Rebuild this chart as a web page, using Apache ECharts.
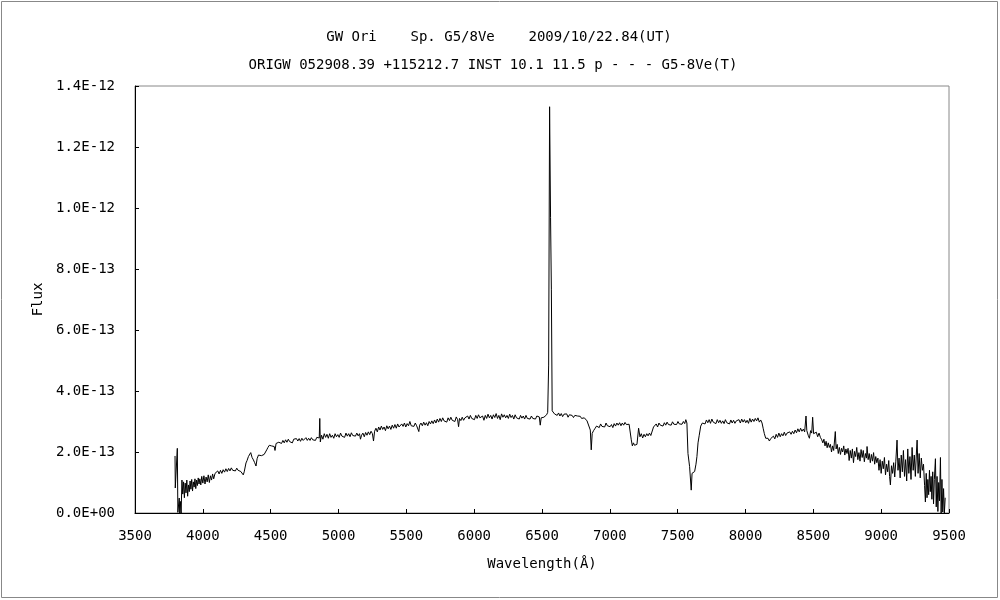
<!DOCTYPE html>
<html>
<head>
<meta charset="utf-8">
<script src="https://cdn.jsdelivr.net/npm/echarts@6/dist/echarts.min.js"></script>
<style>html,body{margin:0;padding:0;background:#fff}#c{width:1000px;height:600px}</style>
</head>
<body>
<div id="c"></div>
<script>
var titleLine1 = 'GW Ori    Sp. G5/8Ve    2009/10/22.84(UT)';
var titleLine2 = 'ORIGW 052908.39 +115212.7 INST 10.1 11.5 p - - - G5-8Ve(T)';
var xAxisName = 'Wavelength(Å)';
var yAxisName = 'Flux';
var xTicks = [3500, 4000, 4500, 5000, 5500, 6000, 6500, 7000, 7500, 8000, 8500, 9000, 9500];
var yTicks = [0, 2e-13, 4e-13, 6e-13, 8e-13, 1e-12, 1.2e-12, 1.4e-12];
// spectrum: [wavelength Å, flux in units of 1e-13]
var spectrum = [
[3795,1.87],[3797,0.82],[3810,0.82],[3812,2.12],[3816,0.02],[3822,0.0],[3826,0.49],[3830,0.0],[3834,0.38],[3840,0.0],[3846,1.08],
[3852,0.62],[3858,1.02],[3864,0.5],[3870,0.98],[3876,0.66],[3882,1.08],[3888,0.55],[3894,0.92],[3900,0.7],[3906,1.05],[3912,0.78],[3918,1.1],[3924,0.72],[3930,1.02],[3936,0.85],[3942,1.12],[3948,0.8],[3954,1.08],[3960,0.9],[3966,1.15],[3972,0.95],[3978,1.12],
[3985,0.92],[3992,1.2],[4000,0.98],[4008,1.22],[4016,0.95],[4024,1.18],[4032,1.02],[4040,1.25],[4048,1.0],[4056,1.22],[4064,1.08],[4072,1.28],[4080,1.12],[4090,1.3],
[4100,1.25],[4110,1.38],[4120,1.28],[4130,1.4],[4140,1.3],[4150,1.42],[4160,1.34],[4170,1.45],[4180,1.36],[4190,1.46],[4200,1.38],[4210,1.48],[4220,1.4],[4230,1.46],[4240,1.38],[4250,1.47],[4260,1.4],[4270,1.45],[4280,1.36],[4290,1.3],[4298,1.25],
[4305,1.35],[4318,1.64],[4326,1.72],[4336,1.85],[4345,1.8],[4353,1.98],[4363,1.82],[4373,1.74],[4382,1.65],[4392,1.54],[4400,1.78],[4410,1.9],[4422,1.85],[4432,1.88],[4442,1.84],[4452,1.92],[4462,1.98],[4471,2.07],[4480,2.15],[4490,2.22],[4496,2.26],[4506,2.2],[4516,2.25],[4526,2.18],[4532,2.05],[4540,2.28],[4550,2.22],[4560,2.32],
[4570,2.35],[4580,2.28],[4590,2.38],[4600,2.3],[4610,2.4],[4620,2.32],[4630,2.42],[4640,2.34],[4650,2.4],[4660,2.3],[4670,2.42],[4680,2.36],[4690,2.44],[4700,2.36],[4710,2.44],[4720,2.35],[4730,2.45],[4740,2.38],[4750,2.42],[4760,2.47],[4770,2.38],[4780,2.45],[4790,2.38],[4800,2.47],[4810,2.4],[4820,2.46],[4830,2.38],[4840,2.48],[4850,2.42],[4858,2.46],[4862,3.1],[4866,2.33],
[4875,2.55],[4885,2.42],[4895,2.6],[4905,2.48],[4915,2.58],[4925,2.45],[4935,2.6],[4945,2.48],[4955,2.55],[4965,2.45],[4975,2.6],[4985,2.5],[4995,2.57],[5005,2.48],[5015,2.62],[5025,2.52],[5035,2.58],[5045,2.48],[5055,2.62],[5065,2.52],[5075,2.6],[5085,2.5],[5095,2.63],[5105,2.54],[5115,2.6],[5125,2.52],[5135,2.62],[5145,2.53],[5155,2.6],[5162,2.42],
[5170,2.55],[5180,2.62],[5190,2.5],[5200,2.64],[5210,2.55],[5220,2.66],[5230,2.57],[5240,2.68],[5250,2.6],[5258,2.36],[5266,2.68],[5276,2.78],[5286,2.66],[5296,2.82],[5306,2.72],[5316,2.85],[5326,2.74],[5336,2.82],[5346,2.7],[5356,2.86],[5366,2.76],[5376,2.85],[5386,2.74],[5396,2.88],[5406,2.78],[5416,2.9],[5426,2.78],[5436,2.92],[5446,2.82],[5456,2.8],[5466,2.92],[5476,2.84],[5486,2.95],[5496,2.82],[5506,2.93],[5516,2.86],[5526,3.0],
[5536,2.86],[5546,2.92],[5556,2.84],[5566,2.95],[5576,2.86],[5586,2.9],[5592,2.67],[5598,2.88],[5608,2.95],[5618,2.86],[5628,2.98],[5638,2.88],[5648,2.96],[5658,2.86],[5668,3.0],[5678,2.92],[5688,3.02],[5698,2.93],
[5708,3.05],[5718,2.95],[5728,3.08],[5738,2.98],[5748,3.1],[5758,3.0],[5768,3.12],[5778,3.02],[5788,3.08],[5798,2.98],[5808,3.12],[5818,3.03],[5828,3.14],[5838,3.04],[5848,3.1],[5858,3.0],[5868,3.15],[5878,3.06],[5885,2.83],[5892,3.1],[5902,3.03],[5912,3.14],[5922,3.04],[5932,3.12],[5942,3.06],
[5952,3.18],[5962,3.08],[5972,3.2],[5982,3.1],[5992,3.16],[6002,3.06],[6012,3.2],[6022,3.1],[6032,3.22],[6042,3.12],[6052,3.08],[6062,3.18],[6072,3.04],[6082,3.2],[6092,3.1],[6102,3.24],[6112,3.12],[6122,3.2],[6132,3.08],[6142,3.22],[6152,3.13],[6162,3.26],[6172,3.1],[6182,3.2],[6192,3.06],[6202,3.25],[6212,3.14],[6222,3.22],[6232,3.12],[6242,3.2],[6252,3.1],[6262,3.24],[6272,3.13],[6282,3.2],[6292,3.08],[6302,3.22],[6312,3.12],[6322,3.18],[6332,3.08],[6342,3.2],[6352,3.11],[6362,3.18],[6372,3.08],[6382,3.2],[6392,3.1],[6402,3.16],[6412,3.08],[6422,3.18],[6432,3.1],[6442,3.16],[6452,3.08],[6462,3.18],[6472,3.12],[6480,3.15],[6487,2.88],[6494,3.12],[6504,3.18],[6514,3.14],[6524,3.2],[6534,3.22],[6542,3.3],
[6549,4.85],[6556,13.32],[6563,9.68],[6569,7.34],[6575,3.35],
[6582,3.34],[6592,3.25],[6602,3.3],[6612,3.2],[6622,3.28],[6632,3.18],[6642,3.26],[6652,3.16],[6662,3.24],[6672,3.18],[6682,3.25],[6692,3.14],[6702,3.22],[6712,3.16],[6722,3.2],[6732,3.13],[6742,3.2],[6752,3.14],[6762,3.18],[6772,3.12],[6782,3.17],[6792,3.1],[6802,3.16],[6812,3.12],[6822,3.1],[6832,3.02],[6843,3.0],[6856,2.72],[6863,2.07],[6870,2.61],[6880,2.7],[6892,2.78],
[6902,2.85],[6912,2.9],[6922,2.8],[6932,2.92],[6942,2.84],[6952,2.9],[6962,2.82],[6972,2.95],[6982,2.86],[6992,2.92],[7002,2.83],[7012,2.9],[7022,2.8],[7032,2.93],[7042,2.85],[7052,2.95],[7062,2.88],[7072,2.96],[7082,2.86],[7092,2.95],[7102,2.88],[7112,2.97],[7122,2.9],[7132,2.95],[7142,2.91],[7150,2.9],
[7158,2.4],[7166,2.2],[7174,2.3],[7182,2.22],[7192,2.28],[7200,2.25],[7212,2.78],[7222,2.5],[7232,2.6],[7242,2.46],[7252,2.58],[7262,2.5],[7272,2.6],[7282,2.53],[7292,2.62],[7302,2.54],[7312,2.6],[7322,2.82],
[7332,2.86],[7342,2.92],[7352,2.82],[7362,2.95],[7372,2.88],[7382,2.93],[7392,2.85],[7402,2.96],[7412,2.88],[7422,2.98],[7432,2.9],[7442,2.96],[7452,2.88],[7462,2.99],[7472,2.91],[7482,2.97],[7492,2.9],[7502,3.0],[7512,2.92],[7522,2.98],[7532,2.91],[7542,3.0],[7552,2.93],[7560,3.06],[7568,2.95],
[7576,1.95],[7588,1.52],[7600,0.75],[7606,1.3],[7614,1.32],[7625,1.36],[7635,1.6],[7642,1.85],[7650,2.3],[7659,2.55],[7670,2.85],[7682,2.95],
[7692,3.0],[7702,2.92],[7712,3.05],[7722,2.96],[7732,3.06],[7742,2.94],[7752,3.08],[7762,2.98],[7772,3.04],[7782,2.93],[7792,3.06],[7802,2.96],[7812,3.04],[7822,2.94],[7832,3.02],[7842,2.93],[7852,3.06],[7862,2.96],[7872,3.02],[7882,2.92],[7892,3.05],[7902,2.95],[7912,3.04],[7922,2.94],[7932,3.02],[7942,2.96],[7952,3.06],[7962,2.95],[7972,3.08],[7982,2.98],[7992,3.06],[8002,2.96],[8012,3.04],[8022,2.94],[8032,3.1],[8042,2.98],[8052,3.08],[8062,3.0],[8072,3.1],[8082,3.02],[8092,3.12],[8102,2.98],[8112,3.05],
[8122,2.95],[8130,2.78],[8139,2.6],[8149,2.45],[8158,2.4],[8166,2.45],[8176,2.36],[8186,2.44],[8196,2.38],[8206,2.52],[8216,2.43],[8226,2.58],[8236,2.48],[8246,2.62],[8256,2.5],[8266,2.6],[8276,2.53],[8286,2.65],[8296,2.54],[8306,2.62],[8316,2.56],[8326,2.66],[8336,2.58],[8346,2.68],[8356,2.6],
[8366,2.72],[8376,2.63],[8386,2.76],[8396,2.66],[8406,2.78],[8416,2.68],[8426,2.75],[8436,2.66],[8446,3.18],[8452,2.7],[8462,2.55],[8471,2.45],[8480,2.7],[8488,2.62],[8495,3.14],[8502,2.6],[8512,2.55],[8522,2.65],[8532,2.5],[8542,2.62],[8552,2.48],[8562,2.4],[8570,2.3],[8578,2.42],[8586,2.2],[8594,2.35],[8602,2.14],[8610,2.3],[8618,2.15],
[8626,2.25],[8634,2.0],[8642,2.2],[8650,2.05],[8662,2.67],[8668,2.1],[8676,2.25],[8684,1.95],[8692,2.15],[8700,1.92],[8708,2.12],[8716,2.0],[8724,2.2],[8732,1.9],[8740,2.1],[8748,1.95],
[8756,2.12],[8764,1.72],[8772,2.05],[8780,1.8],[8788,2.1],[8796,1.65],[8804,2.02],[8812,1.85],[8820,2.15],[8828,1.75],[8836,1.98],[8844,1.7],[8852,2.08],[8860,1.82],[8868,2.05],[8876,1.68],[8884,1.95],[8892,1.8],[8896,2.18],[8904,1.75],[8912,1.95],[8920,1.65],[8928,1.92],[8936,1.7],[8944,1.98],[8952,1.6],[8960,1.85],[8968,1.65],
[8976,1.8],[8984,1.4],[8992,1.75],[9000,1.3],[9008,1.7],[9016,1.45],[9024,1.82],[9032,1.25],[9040,1.6],[9048,1.35],[9056,1.72],[9062,1.2],[9068,0.92],[9076,1.55],[9084,1.3],[9092,1.65],[9100,1.18],[9108,1.7],[9117,2.39],[9124,1.4],
[9132,1.8],[9140,1.15],[9148,1.9],[9156,1.35],[9164,2.05],[9172,1.2],[9180,1.75],[9188,1.05],[9196,2.1],[9204,1.3],[9212,1.85],[9220,1.1],[9228,2.15],[9236,1.4],[9244,1.9],[9252,1.2],[9260,2.0],[9265,2.39],[9272,1.3],[9280,1.95],[9288,1.15],[9296,1.8],[9304,1.4],[9312,1.6],
[9320,0.9],[9326,0.36],[9332,1.3],[9338,0.5],[9344,1.1],[9350,0.6],[9356,1.4],[9362,0.7],[9368,1.2],[9374,0.45],[9380,1.35],[9386,0.3],[9392,1.1],[9400,1.78],[9406,0.2],[9412,1.2],[9418,0.05],[9424,1.0],[9430,0.4],[9437,1.82],[9442,0.0],[9448,1.1],[9454,0.03],[9460,0.8],[9466,0.0],[9472,0.5]
];
var FLUX_UNIT = 1e-13;

var font = 'DejaVu Sans Mono';
var chart = echarts.init(document.getElementById('c'), null, {renderer: 'canvas'});
var seriesData = spectrum.map(function (p) { return [p[0], p[1] * FLUX_UNIT]; });
function fmtY(v) {
  if (v === 0) return '0.0E+00';
  return v.toExponential(1).toUpperCase();
}
function fmtX(v) { return String(v); }
chart.setOption({
  animation: false,
  backgroundColor: '#ffffff',
  title: [
    {text: titleLine1, left: 494, top: 25, textAlign: 'center',
     textStyle: {fontFamily: font, fontSize: 14, fontWeight: 'normal', color: '#000'}},
    {text: titleLine2, left: 488, top: 53, textAlign: 'center',
     textStyle: {fontFamily: font, fontSize: 14, fontWeight: 'normal', color: '#000'}}
  ],
  graphic: [{type: 'rect', shape: {x: 1.5, y: 1.5, width: 996, height: 596},
    style: {fill: 'none', stroke: '#888', lineWidth: 1}, silent: true}],
  grid: {left: 135, right: 51, top: 86, bottom: 87, show: true, borderColor: '#888', borderWidth: 1, backgroundColor: 'transparent'},
  xAxis: {
    type: 'value', min: xTicks[0], max: xTicks[xTicks.length - 1], interval: 500,
    name: xAxisName, nameLocation: 'middle', nameGap: 44,
    nameTextStyle: {fontFamily: font, fontSize: 14, color: '#000'},
    axisLine: {show: true, onZero: false, lineStyle: {color: '#000', width: 1}},
    axisTick: {show: true, inside: true, length: 4, lineStyle: {color: '#000'}},
    axisLabel: {fontFamily: font, fontSize: 14, color: '#000', margin: 16, formatter: fmtX},
    splitLine: {show: false}
  },
  yAxis: {
    type: 'value', min: yTicks[0], max: yTicks[yTicks.length - 1], interval: 2e-13,
    name: yAxisName, nameLocation: 'middle', nameGap: 88, nameRotate: 90,
    nameTextStyle: {fontFamily: font, fontSize: 14, color: '#000'},
    axisLine: {show: true, lineStyle: {color: '#000', width: 1}},
    axisTick: {show: true, inside: true, length: 4, lineStyle: {color: '#000'}},
    axisLabel: {fontFamily: font, fontSize: 14, color: '#000', margin: 20, formatter: fmtY},
    splitLine: {show: false}
  },
  series: [{
    type: 'line', data: seriesData, showSymbol: false, symbol: 'none',
    lineStyle: {color: '#000', width: 1}, clip: true
  }]
});
</script>
</body>
</html>
